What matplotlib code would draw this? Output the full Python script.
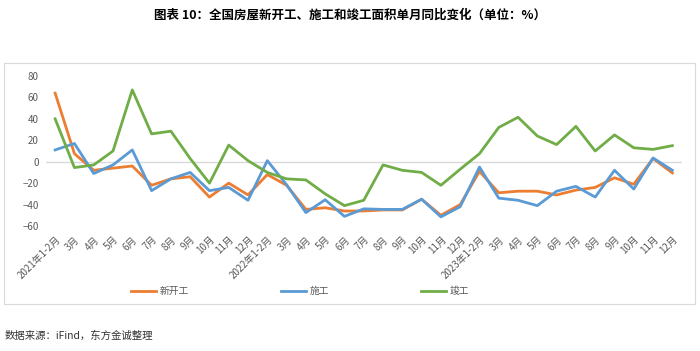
import matplotlib
matplotlib.use('Agg')
import matplotlib.pyplot as plt
from matplotlib.patches import Rectangle

plt.rcParams['font.family'] = ['Noto Sans CJK SC', 'DejaVu Sans']

months = ['1-2月'] + ['%d月' % m for m in range(3, 13)]
categories = (['2021年' + months[0]] + months[1:] +
              ['2022年' + months[0]] + months[1:] +
              ['2023年' + months[0]] + months[1:])

# 单月同比 (%)
new_start = [64, 7.5, -8, -6, -4, -22, -16, -14, -33, -20, -31,
             -12, -22, -44.5, -43, -46, -46, -45, -45, -35, -50, -40,
             -9, -29, -27.5, -27.5, -31, -26.5, -24, -15, -21, 3, -10.5]
construction = [11, 17, -11, -3, 11, -27, -16, -10, -27, -24, -36,
                1, -21.5, -47.5, -35.5, -51, -44, -44.5, -44.5, -35, -51.5, -42,
                -5, -34, -36, -41, -27.5, -23, -33, -8, -25.5, 3.5, -8]
completion = [40, -5.5, -3, 10, 67, 26, 28.5, 3, -20, 15.5, 1,
              -10, -16, -17, -30, -41, -36, -3, -8, -10, -22, -7,
              7.5, 32, 41.5, 24, 16, 33, 10, 25, 13, 11.5, 15]

W, H = 700, 351
fig = plt.figure(figsize=(7, 3.51), dpi=100)

# outer chart frame
fig.patches.append(Rectangle((4 / W, (H - 304) / H), 691 / W, 241 / H,
                             transform=fig.transFigure, fill=False,
                             edgecolor='#D9D9D9', linewidth=0.8))

ax = fig.add_axes([45.5 / W, (H - 226) / H, (682 - 45.5) / W, 150 / H])
x = list(range(len(categories)))
l1, = ax.plot(x, new_start, color='#ED7D31', lw=2.0, label='新开工', zorder=3)
l2, = ax.plot(x, construction, color='#5B9BD5', lw=2.0, label='施工', zorder=4)
l3, = ax.plot(x, completion, color='#70AD47', lw=2.0, label='竣工', zorder=5)
ax.axhline(0, color='#D9D9D9', lw=1.0, zorder=1)

ax.set_xlim(-0.5, len(categories) - 0.5)
ax.set_ylim(-60, 80)
ax.set_yticks(range(-60, 81, 20))
ax.tick_params(axis='y', length=0, labelsize=7, labelcolor='#595959', pad=5)
ax.set_xticks(x)
ax.set_xticklabels(categories, rotation=45, ha='right', va='top',
                   rotation_mode='anchor', fontsize=7, color='#595959')
ax.tick_params(axis='x', length=0, pad=6)
for s in ax.spines.values():
    s.set_visible(False)

fig.legend(handles=[l1, l2, l3], loc='center', bbox_to_anchor=(300 / W, (H - 291) / H),
           ncol=3, frameon=False, fontsize=7, handlelength=2.6, handletextpad=0.3,
           columnspacing=9.5, labelcolor='#595959')

fig.text(0.5, (H - 15) / H, '图表 10：全国房屋新开工、施工和竣工面积单月同比变化（单位：%）',
         ha='center', va='center', fontsize=9, fontweight='bold')
fig.text(5 / W, (H - 336) / H, '数据来源：iFind，东方金诚整理',
         ha='left', va='center', fontsize=7.5, color='#333333')

fig.savefig('out.png', dpi=100)
